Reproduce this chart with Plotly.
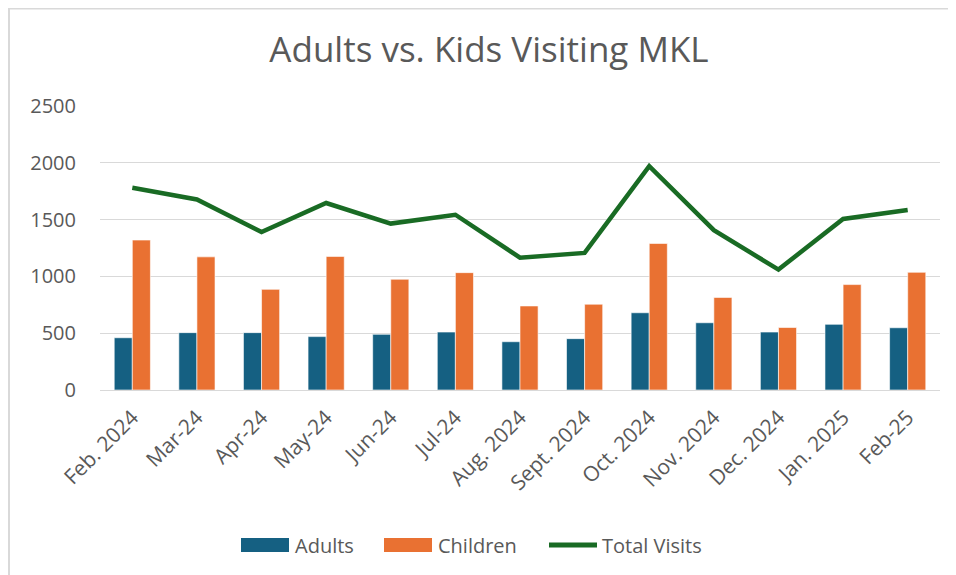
import plotly.graph_objects as go

months = ["Feb. 2024", "Mar-24", "Apr-24", "May-24", "Jun-24", "Jul-24", "Aug. 2024",
          "Sept. 2024", "Oct. 2024", "Nov. 2024", "Dec. 2024", "Jan. 2025", "Feb-25"]
adults = [460, 505, 505, 470, 490, 510, 425, 452, 680, 592, 510, 578, 548]
children = [1320, 1172, 886, 1176, 975, 1033, 740, 755, 1290, 815, 550, 928, 1036]
total_visits = [1780, 1677, 1391, 1646, 1465, 1543, 1165, 1207, 1970, 1407, 1060, 1506, 1584]

series_names = ["Adults", "Children", "Total Visits"]
series_colors = ["#156082", "#E97132", "#196B24"]

FONT = "Open Sans"
GREY = "#595959"

# page body adds an 8px offset; figure is sized to the remaining window
OFF = 8
W, H = 956 - OFF, 575 - OFF
L, R, T, B = 100 - OFF, 16, 106 - OFF, H - (390 - OFF)
pw, ph = W - L - R, H - T - B


def px(x):
    return (x - OFF - L) / pw


def py(y):
    return (ph - (y - OFF - T)) / ph


fig = go.Figure()
fig.add_bar(x=months, y=adults, name=series_names[0], showlegend=False,
            marker=dict(color=series_colors[0], line=dict(color="#ffffff", width=0.6)))
fig.add_bar(x=months, y=children, name=series_names[1], showlegend=False,
            marker=dict(color=series_colors[1], line=dict(color="#ffffff", width=0.6)))
fig.add_scatter(x=months, y=total_visits, name=series_names[2], mode="lines", showlegend=False,
                line=dict(color=series_colors[2], width=4.5))

shapes = [dict(type="rect", xref="paper", yref="paper",
               x0=px(9), x1=px(960), y0=py(580), y1=py(8.5),
               line=dict(color="#d9d9d9", width=2), fillcolor="rgba(0,0,0,0)", layer="below")]
annotations = []

# legend keys (reference pixel positions)
leg_y = 545
shapes.append(dict(type="rect", xref="paper", yref="paper", x0=px(241), x1=px(289),
                   y0=py(552), y1=py(538), fillcolor=series_colors[0], line=dict(width=0)))
shapes.append(dict(type="rect", xref="paper", yref="paper", x0=px(384), x1=px(432),
                   y0=py(552), y1=py(538), fillcolor=series_colors[1], line=dict(width=0)))
shapes.append(dict(type="line", xref="paper", yref="paper", x0=px(549), x1=px(597),
                   y0=py(leg_y), y1=py(leg_y), line=dict(color=series_colors[2], width=5)))
for name, x in zip(series_names, [293, 436, 600]):
    annotations.append(dict(text=name, xref="paper", yref="paper", x=px(x), y=py(leg_y),
                            xanchor="left", yanchor="middle", showarrow=False,
                            font=dict(size=20, color=GREY, family=FONT)))

fig.update_layout(
    width=W, height=H,
    margin=dict(l=L, r=R, t=T, b=B, autoexpand=False),
    paper_bgcolor="white", plot_bgcolor="white",
    barmode="group", bargap=0.44, bargroupgap=0,
    font=dict(family=FONT, color=GREY, size=18),
    title=dict(text="Adults vs. Kids Visiting MKL", x=(489 - OFF) / W, xanchor="center",
               y=1 - (50 - OFF) / H, yanchor="middle", font=dict(size=35, color=GREY, family=FONT)),
    showlegend=False,
    shapes=shapes,
    annotations=annotations,
)
fig.update_yaxes(range=[0, 2500], dtick=500, showgrid=True, gridcolor="#d9d9d9", gridwidth=1,
                 zeroline=True, zerolinecolor="#d9d9d9", zerolinewidth=1, showline=False, automargin=False,
                 tickfont=dict(size=20, color=GREY), ticks="", ticklabelstandoff=23)
fig.update_xaxes(tickangle=-45, showgrid=False, showline=False, ticks="", automargin=False,
                 tickfont=dict(size=21, color=GREY), ticklabelstandoff=10)

fig.write_html("out.html")
